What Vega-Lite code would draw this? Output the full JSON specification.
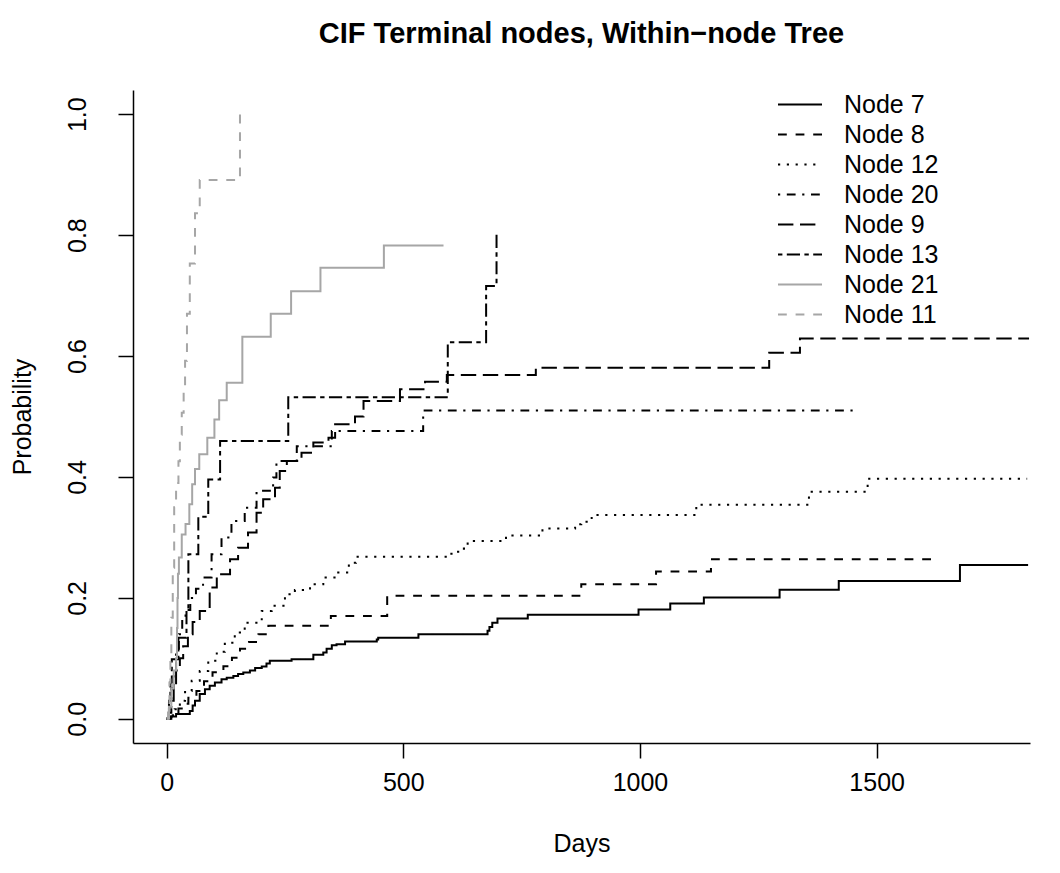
{
  "$schema": "https://vega.github.io/schema/vega-lite/v6.json",
  "width": 897,
  "height": 653,
  "autosize": {"type": "none"},
  "padding": {"left": 133, "top": 90, "right": 30, "bottom": 130},
  "background": "white",
  "title": {"text": "CIF Terminal nodes, Within−node Tree", "font": "Liberation Sans", "fontSize": 29, "fontWeight": "bold", "color": "black", "anchor": "middle", "baseline": "alphabetic", "offset": 18},
  "config": {
    "view": {"stroke": null},
    "axis": {"grid": false, "domainColor": "black", "tickColor": "black", "labelColor": "black", "titleColor": "black", "labelFont": "Liberation Sans", "titleFont": "Liberation Sans", "labelFontSize": 25, "titleFontSize": 25, "titleFontWeight": "normal", "domainWidth": 1.5, "tickWidth": 1.5, "tickSize": 15}
  },
  "data": {"values": [
    {"node":"Node 7","day":0,"p":0},{"node":"Node 7","day":3,"p":0},{"node":"Node 7","day":10,"p":0.004},{"node":"Node 7","day":20,"p":0.008},{"node":"Node 7","day":49,"p":0.013},{"node":"Node 7","day":55,"p":0.022},{"node":"Node 7","day":60,"p":0.03},{"node":"Node 7","day":70,"p":0.041},{"node":"Node 7","day":81,"p":0.049},{"node":"Node 7","day":91,"p":0.0545},{"node":"Node 7","day":102,"p":0.06},{"node":"Node 7","day":116,"p":0.0656},{"node":"Node 7","day":127,"p":0.068},{"node":"Node 7","day":141,"p":0.071},{"node":"Node 7","day":151,"p":0.074},{"node":"Node 7","day":162,"p":0.0765},{"node":"Node 7","day":176,"p":0.08},{"node":"Node 7","day":187,"p":0.084},{"node":"Node 7","day":201,"p":0.0865},{"node":"Node 7","day":211,"p":0.0914},{"node":"Node 7","day":218,"p":0.096},{"node":"Node 7","day":264,"p":0.0986},{"node":"Node 7","day":310,"p":0.1058},{"node":"Node 7","day":331,"p":0.1096},{"node":"Node 7","day":338,"p":0.116},{"node":"Node 7","day":349,"p":0.1218},{"node":"Node 7","day":359,"p":0.1234},{"node":"Node 7","day":377,"p":0.1278},{"node":"Node 7","day":444,"p":0.131},{"node":"Node 7","day":447,"p":0.134},{"node":"Node 7","day":532,"p":0.14},{"node":"Node 7","day":678,"p":0.1455},{"node":"Node 7","day":682,"p":0.152},{"node":"Node 7","day":688,"p":0.159},{"node":"Node 7","day":699,"p":0.166},{"node":"Node 7","day":763,"p":0.172},{"node":"Node 7","day":997,"p":0.181},{"node":"Node 7","day":1064,"p":0.1906},{"node":"Node 7","day":1135,"p":0.2005},{"node":"Node 7","day":1295,"p":0.2135},{"node":"Node 7","day":1420,"p":0.228},{"node":"Node 7","day":1676,"p":0.2545},{"node":"Node 7","day":1820,"p":0.2545},
    {"node":"Node 8","day":0,"p":0},{"node":"Node 8","day":8,"p":0.004},{"node":"Node 8","day":14,"p":0.008},{"node":"Node 8","day":25,"p":0.017},{"node":"Node 8","day":35,"p":0.025},{"node":"Node 8","day":46,"p":0.035},{"node":"Node 8","day":63,"p":0.046},{"node":"Node 8","day":79,"p":0.062},{"node":"Node 8","day":97,"p":0.077},{"node":"Node 8","day":120,"p":0.087},{"node":"Node 8","day":138,"p":0.101},{"node":"Node 8","day":155,"p":0.116},{"node":"Node 8","day":174,"p":0.127},{"node":"Node 8","day":194,"p":0.14},{"node":"Node 8","day":215,"p":0.154},{"node":"Node 8","day":347,"p":0.17},{"node":"Node 8","day":466,"p":0.2035},{"node":"Node 8","day":876,"p":0.2226},{"node":"Node 8","day":1034,"p":0.2435},{"node":"Node 8","day":1150,"p":0.264},{"node":"Node 8","day":1623,"p":0.264},
    {"node":"Node 12","day":0,"p":0},{"node":"Node 12","day":8,"p":0.006},{"node":"Node 12","day":17,"p":0.016},{"node":"Node 12","day":28,"p":0.03},{"node":"Node 12","day":39,"p":0.046},{"node":"Node 12","day":53,"p":0.063},{"node":"Node 12","day":70,"p":0.079},{"node":"Node 12","day":88,"p":0.096},{"node":"Node 12","day":106,"p":0.111},{"node":"Node 12","day":123,"p":0.126},{"node":"Node 12","day":144,"p":0.1426},{"node":"Node 12","day":165,"p":0.159},{"node":"Node 12","day":201,"p":0.1785},{"node":"Node 12","day":222,"p":0.187},{"node":"Node 12","day":250,"p":0.206},{"node":"Node 12","day":271,"p":0.213},{"node":"Node 12","day":303,"p":0.2226},{"node":"Node 12","day":331,"p":0.2336},{"node":"Node 12","day":359,"p":0.2418},{"node":"Node 12","day":385,"p":0.258},{"node":"Node 12","day":400,"p":0.268},{"node":"Node 12","day":594,"p":0.273},{"node":"Node 12","day":612,"p":0.2765},{"node":"Node 12","day":628,"p":0.2815},{"node":"Node 12","day":636,"p":0.294},{"node":"Node 12","day":717,"p":0.303},{"node":"Node 12","day":794,"p":0.3146},{"node":"Node 12","day":863,"p":0.3218},{"node":"Node 12","day":876,"p":0.326},{"node":"Node 12","day":898,"p":0.337},{"node":"Node 12","day":1119,"p":0.354},{"node":"Node 12","day":1357,"p":0.3757},{"node":"Node 12","day":1481,"p":0.397},{"node":"Node 12","day":1818,"p":0.397},
    {"node":"Node 20","day":0,"p":0},{"node":"Node 20","day":5,"p":0.02},{"node":"Node 20","day":10,"p":0.05},{"node":"Node 20","day":15,"p":0.08},{"node":"Node 20","day":20,"p":0.11},{"node":"Node 20","day":26,"p":0.14},{"node":"Node 20","day":33,"p":0.165},{"node":"Node 20","day":40,"p":0.18},{"node":"Node 20","day":50,"p":0.2},{"node":"Node 20","day":62,"p":0.215},{"node":"Node 20","day":77,"p":0.2336},{"node":"Node 20","day":95,"p":0.272},{"node":"Node 20","day":116,"p":0.3},{"node":"Node 20","day":137,"p":0.327},{"node":"Node 20","day":165,"p":0.349},{"node":"Node 20","day":190,"p":0.377},{"node":"Node 20","day":225,"p":0.399},{"node":"Node 20","day":232,"p":0.4264},{"node":"Node 20","day":275,"p":0.451},{"node":"Node 20","day":349,"p":0.476},{"node":"Node 20","day":542,"p":0.51},{"node":"Node 20","day":1460,"p":0.51},
    {"node":"Node 9","day":0,"p":0},{"node":"Node 9","day":5,"p":0.01},{"node":"Node 9","day":10,"p":0.03},{"node":"Node 9","day":15,"p":0.05},{"node":"Node 9","day":20,"p":0.08},{"node":"Node 9","day":28,"p":0.1},{"node":"Node 9","day":35,"p":0.12},{"node":"Node 9","day":45,"p":0.14},{"node":"Node 9","day":55,"p":0.16},{"node":"Node 9","day":70,"p":0.1785},{"node":"Node 9","day":91,"p":0.217},{"node":"Node 9","day":106,"p":0.239},{"node":"Node 9","day":134,"p":0.264},{"node":"Node 9","day":151,"p":0.283},{"node":"Node 9","day":172,"p":0.308},{"node":"Node 9","day":190,"p":0.341},{"node":"Node 9","day":204,"p":0.363},{"node":"Node 9","day":229,"p":0.382},{"node":"Node 9","day":239,"p":0.41},{"node":"Node 9","day":254,"p":0.4264},{"node":"Node 9","day":285,"p":0.44},{"node":"Node 9","day":310,"p":0.457},{"node":"Node 9","day":342,"p":0.465},{"node":"Node 9","day":356,"p":0.487},{"node":"Node 9","day":398,"p":0.5},{"node":"Node 9","day":416,"p":0.5256},{"node":"Node 9","day":493,"p":0.545},{"node":"Node 9","day":546,"p":0.5575},{"node":"Node 9","day":592,"p":0.5686},{"node":"Node 9","day":780,"p":0.5807},{"node":"Node 9","day":1273,"p":0.6055},{"node":"Node 9","day":1338,"p":0.629},{"node":"Node 9","day":1822,"p":0.629},
    {"node":"Node 13","day":0,"p":0},{"node":"Node 13","day":5,"p":0.03},{"node":"Node 13","day":8,"p":0.06},{"node":"Node 13","day":11,"p":0.0986},{"node":"Node 13","day":25,"p":0.134},{"node":"Node 13","day":42,"p":0.184},{"node":"Node 13","day":46,"p":0.272},{"node":"Node 13","day":67,"p":0.334},{"node":"Node 13","day":88,"p":0.396},{"node":"Node 13","day":113,"p":0.4595},{"node":"Node 13","day":257,"p":0.532},{"node":"Node 13","day":594,"p":0.623},{"node":"Node 13","day":675,"p":0.716},{"node":"Node 13","day":697,"p":0.802},
    {"node":"Node 21","day":0,"p":0},{"node":"Node 21","day":5,"p":0.02},{"node":"Node 21","day":10,"p":0.05},{"node":"Node 21","day":15,"p":0.08},{"node":"Node 21","day":20,"p":0.1},{"node":"Node 21","day":22,"p":0.15},{"node":"Node 21","day":23,"p":0.2},{"node":"Node 21","day":24,"p":0.24},{"node":"Node 21","day":26,"p":0.267},{"node":"Node 21","day":32,"p":0.305},{"node":"Node 21","day":40,"p":0.322},{"node":"Node 21","day":48,"p":0.355},{"node":"Node 21","day":54,"p":0.388},{"node":"Node 21","day":60,"p":0.413},{"node":"Node 21","day":69,"p":0.4375},{"node":"Node 21","day":86,"p":0.465},{"node":"Node 21","day":101,"p":0.495},{"node":"Node 21","day":111,"p":0.527},{"node":"Node 21","day":127,"p":0.556},{"node":"Node 21","day":160,"p":0.632},{"node":"Node 21","day":220,"p":0.67},{"node":"Node 21","day":263,"p":0.707},{"node":"Node 21","day":325,"p":0.746},{"node":"Node 21","day":459,"p":0.783},{"node":"Node 21","day":585,"p":0.783},
    {"node":"Node 11","day":0,"p":0},{"node":"Node 11","day":3,"p":0.02},{"node":"Node 11","day":6,"p":0.06},{"node":"Node 11","day":8,"p":0.1},{"node":"Node 11","day":10,"p":0.167},{"node":"Node 11","day":13,"p":0.25},{"node":"Node 11","day":16,"p":0.35},{"node":"Node 11","day":20,"p":0.39},{"node":"Node 11","day":25,"p":0.426},{"node":"Node 11","day":28,"p":0.47},{"node":"Node 11","day":32,"p":0.506},{"node":"Node 11","day":36,"p":0.55},{"node":"Node 11","day":39,"p":0.592},{"node":"Node 11","day":43,"p":0.67},{"node":"Node 11","day":49,"p":0.753},{"node":"Node 11","day":60,"p":0.836},{"node":"Node 11","day":70,"p":0.891},{"node":"Node 11","day":155,"p":1.0}
  ]},
  "mark": {"type": "line", "interpolate": "step-after", "strokeWidth": 2, "clip": true},
  "encoding": {
    "x": {"field": "day", "type": "quantitative", "scale": {"domain": [-71, 1824], "nice": false, "zero": false},
      "axis": {"values": [0, 500, 1000, 1500], "format": "d", "title": "Days", "labelPadding": 12, "labelFlush": false, "labelOverlap": false, "titleX": 448.5, "titleY": 100, "titleBaseline": "middle", "titleAlign": "center"}},
    "y": {"field": "p", "type": "quantitative", "scale": {"domain": [-0.04, 1.04], "nice": false, "zero": false},
      "axis": {"values": [0, 0.2, 0.4, 0.6, 0.8, 1], "format": ".1f", "title": "Probability", "labelAngle": -90, "labelAlign": "center", "labelBaseline": "alphabetic", "labelPadding": 33, "labelFlush": false, "labelOverlap": false, "titleX": -111, "titleY": 326.5, "titleAngle": -90, "titleBaseline": "middle", "titleAlign": "center"}},
    "color": {"field": "node", "type": "nominal",
      "scale": {"domain": ["Node 7","Node 8","Node 12","Node 20","Node 9","Node 13","Node 21","Node 11"], "range": ["#000000","#000000","#000000","#000000","#000000","#000000","#A6A6A6","#A6A6A6"]},
      "legend": {"title": null, "orient": "none", "legendX": 644, "legendY": 2, "symbolType": "stroke", "symbolSize": 1936, "symbolStrokeWidth": 2, "labelFont": "Liberation Sans", "labelFontSize": 25, "labelColor": "black", "labelOffset": 21, "clipHeight": 25, "rowPadding": 4, "padding": 0, "labelLimit": 300}},
    "strokeDash": {"field": "node", "type": "nominal",
      "scale": {"domain": ["Node 7","Node 8","Node 12","Node 20","Node 9","Node 13","Node 21","Node 11"], "range": [[1,0],[8.8,8.8],[2.2,6.6],[2.2,6.6,8.8,6.6],[15.4,6.6],[4.4,4.4,13.2,4.4],[1,0],[8.8,8.8]]},
      "legend": {"title": null, "orient": "none", "legendX": 644, "legendY": 2, "symbolType": "stroke", "symbolSize": 1936, "symbolStrokeWidth": 2, "labelFont": "Liberation Sans", "labelFontSize": 25, "labelColor": "black", "labelOffset": 21, "clipHeight": 25, "rowPadding": 4, "padding": 0, "labelLimit": 300}}
  }
}
